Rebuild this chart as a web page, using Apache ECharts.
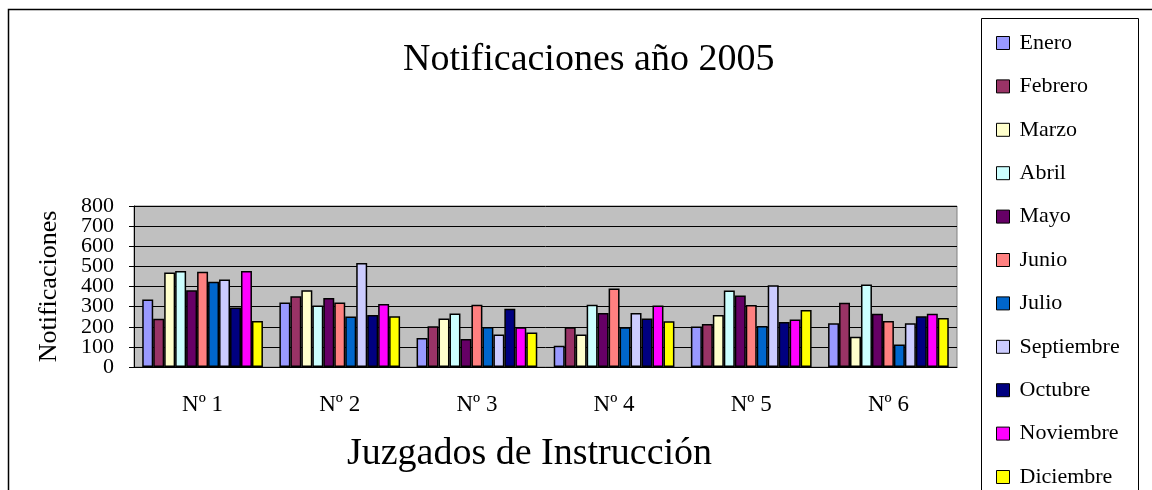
<!DOCTYPE html>
<html>
<head>
<meta charset="utf-8">
<script src="https://cdn.jsdelivr.net/npm/echarts@6/dist/echarts.min.js"></script>
<style>
  html, body { margin: 0; padding: 0; background: #fff; }
  #chart { width: 1152px; height: 490px; }
</style>
</head>
<body>
<div id="chart"></div>
<script>
// juzgados
const categories = ['Nº 1', 'Nº 2', 'Nº 3', 'Nº 4', 'Nº 5', 'Nº 6']
const months = ['Enero', 'Febrero', 'Marzo', 'Abril', 'Mayo', 'Junio', 'Julio',
  'Septiembre', 'Octubre', 'Noviembre', 'Diciembre']
const colors = ['#9999FF', '#993366', '#FFFFCC', '#CCFFFF', '#660066', '#FF8080',
  '#0066CC', '#CCCCFF', '#000080', '#FF00FF', '#FFFF00']

// one array per month, values per juzgado
const enero = [335, 320, 144, 105, 201, 217]
const febrero = [240, 351, 202, 197, 214, 319]
const marzo = [470, 381, 241, 162, 258, 150]
const abril = [477, 306, 266, 309, 380, 410]
const mayo = [381, 343, 139, 268, 355, 264]
const junio = [473, 321, 309, 390, 308, 229]
const julio = [423, 251, 199, 197, 204, 112]
const septiembre = [435, 517, 162, 268, 406, 217]
const octubre = [296, 258, 289, 241, 224, 252]
const noviembre = [477, 313, 197, 306, 236, 264]
const diciembre = [229, 252, 172, 227, 283, 244]
const values = [enero, febrero, marzo, abril, mayo, junio, julio,
  septiembre, octubre, noviembre, diciembre]

// tick labels, split in two so the tight labels are not dropped
const yTicksEven = [0, 200, 400, 600, 800]
const yTicksOdd = [100, 300, 500, 700]

const serif = 'Liberation Serif, Times New Roman, serif'
const tickFont = { fontFamily: serif, fontSize: 22, color: '#000', margin: 20 }

const chart = echarts.init(document.getElementById('chart'))

chart.setOption({
  animation: false,
  color: colors,
  title: {
    text: 'Notificaciones año 2005',
    left: 398,
    top: 36,
    textStyle: { fontFamily: serif, fontSize: 38, fontWeight: 'normal', color: '#000' }
  },
  legend: {
    orient: 'vertical',
    left: 996,
    top: 32,
    height: 480,
    padding: 0,
    itemWidth: 13,
    itemHeight: 13,
    itemGap: 21.4,
    icon: 'rect',
    itemStyle: { borderColor: '#000', borderWidth: 1 },
    textStyle: { fontFamily: serif, fontSize: 22, lineHeight: 22, color: '#000', padding: [0, 0, 0, 5] },
    data: months
  },
  graphic: [
    {
      type: 'rect',
      shape: { x: 8.5, y: 9.5, width: 1300, height: 600 },
      style: { fill: 'none', stroke: '#000', lineWidth: 1.5 },
      silent: true
    },
    {
      type: 'rect',
      shape: { x: 981.5, y: 18.5, width: 157, height: 600 },
      style: { fill: 'none', stroke: '#000', lineWidth: 1 },
      silent: true
    }
  ],
  grid: {
    left: 134,
    right: 195,
    top: 206,
    bottom: 123,
    show: true,
    backgroundColor: '#C0C0C0',
    borderColor: '#808080',
    borderWidth: 1
  },
  xAxis: {
    type: 'category',
    data: categories,
    name: 'Juzgados de Instrucción',
    nameLocation: 'middle',
    nameGap: 68,
    nameTextStyle: { fontFamily: serif, fontSize: 38, color: '#000', padding: [0, 32, 0, 0] },
    axisLine: { lineStyle: { color: '#000', width: 1 } },
    axisTick: { length: 6, lineStyle: { color: '#000' } },
    axisLabel: { fontFamily: serif, fontSize: 23, color: '#000', margin: 26 }
  },
  yAxis: [
    {
      type: 'value',
      min: 0,
      max: 800,
      interval: 100,
      name: 'Notificaciones',
      nameLocation: 'middle',
      nameGap: 72,
      nameTextStyle: { fontFamily: serif, fontSize: 26, color: '#000' },
      axisLine: { show: true, lineStyle: { color: '#000', width: 1 } },
      axisTick: { show: true, length: 5, lineStyle: { color: '#000' } },
      axisLabel: Object.assign({}, tickFont, {
        formatter: v => (yTicksEven.indexOf(v) >= 0 ? String(v) : '')
      }),
      splitLine: { lineStyle: { color: '#000', width: 1 } }
    },
    {
      type: 'value',
      position: 'left',
      min: 0,
      max: 800,
      interval: 100,
      axisLine: { show: false },
      axisTick: { show: false },
      splitLine: { show: false },
      axisLabel: Object.assign({}, tickFont, {
        formatter: v => (yTicksOdd.indexOf(v) >= 0 ? String(v) : '')
      })
    }
  ],
  series: months.map((m, i) => ({
    name: m,
    type: 'bar',
    data: values[i],
    barGap: '0%',
    barCategoryGap: '12%',
    itemStyle: { borderColor: '#000', borderWidth: 1.5 }
  }))
})
</script>
</body>
</html>
